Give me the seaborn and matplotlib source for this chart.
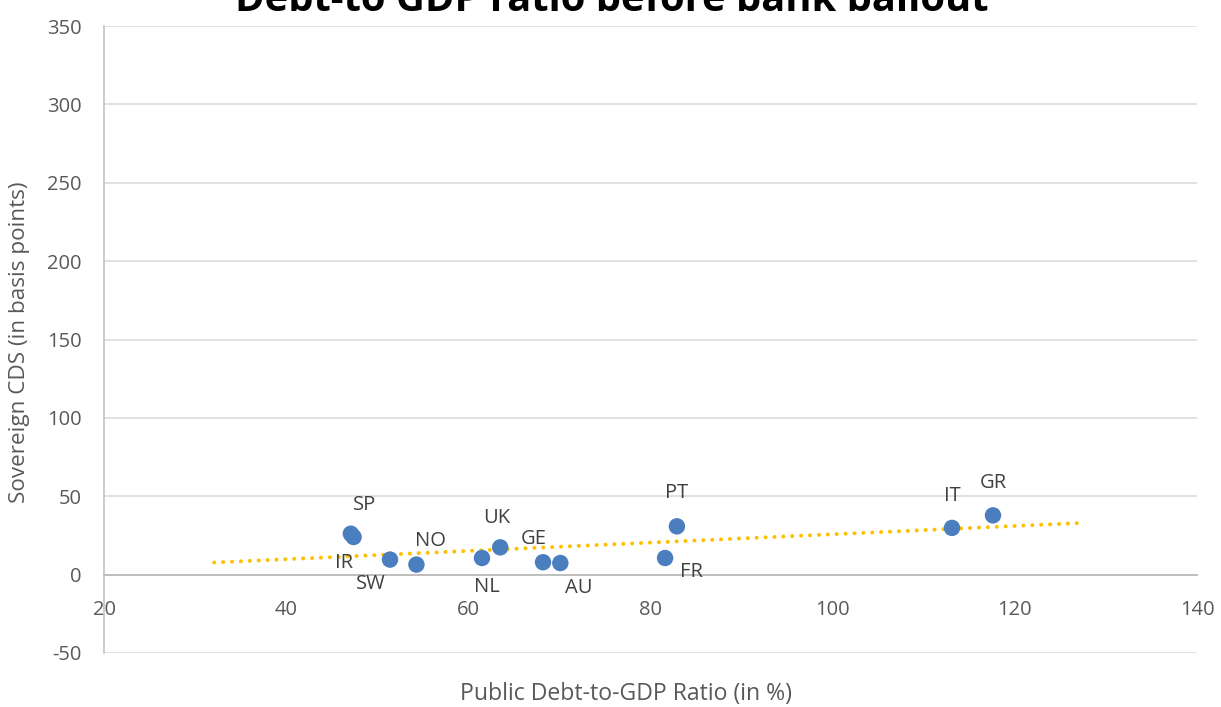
import numpy as np
import pandas as pd
import matplotlib
matplotlib.use("Agg")
import matplotlib.pyplot as plt
import seaborn as sns

# Country codes, public debt-to-GDP (%) and sovereign CDS spreads (bp)
countries = ["SP", "IR", "SW", "NO", "NL", "UK", "GE", "AU", "FR", "PT", "IT", "GR"]
debt_to_gdp = [47.1, 47.4, 51.4, 54.3, 61.5, 63.5, 68.2, 70.1, 81.6, 82.9, 113.1, 117.6]
cds_bp = [26.1, 24.0, 9.6, 6.4, 10.6, 17.4, 7.9, 7.4, 10.6, 30.8, 29.8, 37.8]

x_ticks = [20, 40, 60, 80, 100, 120, 140]
y_ticks = [-50, 0, 50, 100, 150, 200, 250, 300, 350]

df = pd.DataFrame({"country": countries, "debt": debt_to_gdp, "cds": cds_bp})

sns.set_theme(style="white")
plt.rcParams["font.family"] = ["Open Sans", "DejaVu Sans"]
plt.rcParams["axes.unicode_minus"] = False

fig = plt.figure(figsize=(12.21, 7.07), dpi=100)
ax = fig.add_axes([104 / 1221, 54 / 707, 1093 / 1221, 627 / 707])

# Horizontal gridlines
ax.set_axisbelow(True)
ax.yaxis.grid(True, color="#D9D9D9", linewidth=1.1)
ax.xaxis.grid(False)

# Linear trendline, extended 15 units backward and 10 forward
slope, intercept = np.polyfit(df["debt"], df["cds"], 1)
tx = np.linspace(df["debt"].min() - 15, df["debt"].max() + 10, 200)
ax.plot(tx, slope * tx + intercept, color="#FFC000", linewidth=2.9,
        linestyle=(0, (0.01, 2.2)), dash_capstyle="round", zorder=3)

sns.scatterplot(data=df, x="debt", y="cds", ax=ax, s=140, color="#4A7EBF",
                edgecolor="none", linewidth=0, zorder=4, legend=False)

# Data label placement (pixel offsets from each marker)
label_offsets = {
    "SP": (14, 29), "IR": (-10, -26), "SW": (-19, -24), "NO": (14, 24),
    "NL": (5, -29), "UK": (-4, 29), "GE": (-9, 23), "AU": (18, -25),
    "FR": (26, -14), "PT": (0, 33), "IT": (0, 32), "GR": (0, 32),
}
for c, xv, yv in zip(countries, debt_to_gdp, cds_bp):
    dx, dy = label_offsets[c]
    ax.annotate(c, (xv, yv), xytext=(dx, dy), textcoords="offset pixels",
                ha="center", va="center", fontsize=14.5, color="#404040")

ax.set_xlim(20, 140)
ax.set_ylim(-50, 350)
ax.set_xticks(x_ticks)
ax.set_yticks(y_ticks)

for side in ("top", "right"):
    ax.spines[side].set_visible(False)
ax.spines["left"].set_color("#BFBFBF")
ax.spines["left"].set_linewidth(1.1)
ax.spines["bottom"].set_position(("data", 0))
ax.spines["bottom"].set_color("#BFBFBF")
ax.spines["bottom"].set_linewidth(1.4)

ax.tick_params(axis="both", length=0, labelsize=14.5, labelcolor="#595959")
ax.tick_params(axis="x", pad=18)
ax.tick_params(axis="y", pad=16)

ax.set_xlabel("")
ax.set_ylabel("")
fig.text(626 / 1221, 1 - 694 / 707, "Public Debt-to-GDP Ratio (in %)",
         ha="center", va="center", fontsize=16.6, color="#595959")
fig.text(20 / 1221, 1 - 342 / 707, "Sovereign CDS (in basis points)",
         ha="center", va="center", rotation=90, fontsize=16.2, color="#595959")

# Chart title
fig.text(612 / 1221, 1 - 11 / 707, "Debt-to GDP ratio before bank bailout",
         ha="center", va="baseline", fontsize=28.7, fontweight="bold", color="#000000")

fig.savefig("out.png", dpi=100)
